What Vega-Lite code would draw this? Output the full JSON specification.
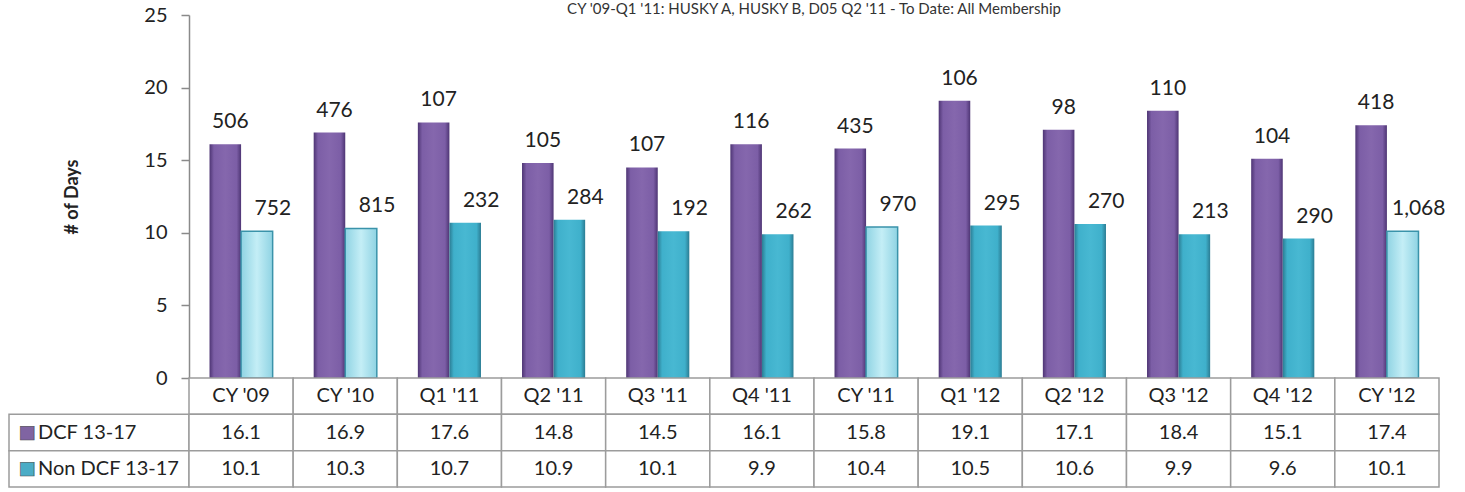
{
  "$schema": "https://vega.github.io/schema/vega-lite/v6.json",
  "padding": {"left": 8, "top": 2, "right": 0, "bottom": 0},
  "autosize": {"type": "pad"},
  "config": {"view": {"stroke": null}, "font": "Lato"},
  "datasets": {
    "main": [
      {"category": "CY '09", "period": "Annual", "series": "DCF 13-17", "days": 16.1, "count": 506},
      {"category": "CY '09", "period": "Annual", "series": "Non DCF 13-17", "days": 10.1, "count": 752},
      {"category": "CY '10", "period": "Annual", "series": "DCF 13-17", "days": 16.9, "count": 476},
      {"category": "CY '10", "period": "Annual", "series": "Non DCF 13-17", "days": 10.3, "count": 815},
      {"category": "Q1 '11", "period": "Quarter", "series": "DCF 13-17", "days": 17.6, "count": 107},
      {"category": "Q1 '11", "period": "Quarter", "series": "Non DCF 13-17", "days": 10.7, "count": 232},
      {"category": "Q2 '11", "period": "Quarter", "series": "DCF 13-17", "days": 14.8, "count": 105},
      {"category": "Q2 '11", "period": "Quarter", "series": "Non DCF 13-17", "days": 10.9, "count": 284},
      {"category": "Q3 '11", "period": "Quarter", "series": "DCF 13-17", "days": 14.5, "count": 107},
      {"category": "Q3 '11", "period": "Quarter", "series": "Non DCF 13-17", "days": 10.1, "count": 192},
      {"category": "Q4 '11", "period": "Quarter", "series": "DCF 13-17", "days": 16.1, "count": 116},
      {"category": "Q4 '11", "period": "Quarter", "series": "Non DCF 13-17", "days": 9.9, "count": 262},
      {"category": "CY '11", "period": "Annual", "series": "DCF 13-17", "days": 15.8, "count": 435},
      {"category": "CY '11", "period": "Annual", "series": "Non DCF 13-17", "days": 10.4, "count": 970},
      {"category": "Q1 '12", "period": "Quarter", "series": "DCF 13-17", "days": 19.1, "count": 106},
      {"category": "Q1 '12", "period": "Quarter", "series": "Non DCF 13-17", "days": 10.5, "count": 295},
      {"category": "Q2 '12", "period": "Quarter", "series": "DCF 13-17", "days": 17.1, "count": 98},
      {"category": "Q2 '12", "period": "Quarter", "series": "Non DCF 13-17", "days": 10.6, "count": 270},
      {"category": "Q3 '12", "period": "Quarter", "series": "DCF 13-17", "days": 18.4, "count": 110},
      {"category": "Q3 '12", "period": "Quarter", "series": "Non DCF 13-17", "days": 9.9, "count": 213},
      {"category": "Q4 '12", "period": "Quarter", "series": "DCF 13-17", "days": 15.1, "count": 104},
      {"category": "Q4 '12", "period": "Quarter", "series": "Non DCF 13-17", "days": 9.6, "count": 290},
      {"category": "CY '12", "period": "Annual", "series": "DCF 13-17", "days": 17.4, "count": 418},
      {"category": "CY '12", "period": "Annual", "series": "Non DCF 13-17", "days": 10.1, "count": 1068}
    ]
  },
  "columns": 2,
  "spacing": 0,
  "bounds": "flush",
  "resolve": {"scale": {"x": "independent", "y": "independent", "color": "independent"}},
  "concat": [
    {
      "width": 180,
      "height": 363,
      "data": {"values": []},
      "mark": {"type": "point", "opacity": 0}
    },
    {
      "width": 1250,
      "height": 363,
      "data": {"name": "main"},
      "title": {
        "text": "CY '09-Q1 '11: HUSKY A, HUSKY B, D05  Q2 '11 - To Date: All Membership",
        "frame": "group",
        "anchor": "middle",
        "fontSize": 15,
        "fontWeight": "normal",
        "color": "#333333",
        "offset": -12
      },
      "encoding": {
        "x": {
          "field": "category",
          "type": "nominal",
          "scale": {
            "domain": ["CY '09", "CY '10", "Q1 '11", "Q2 '11", "Q3 '11", "Q4 '11", "CY '11", "Q1 '12", "Q2 '12", "Q3 '12", "Q4 '12", "CY '12"],
            "paddingInner": 0,
            "paddingOuter": 0
          },
          "axis": null
        },
        "xOffset": {
          "field": "series",
          "type": "nominal",
          "scale": {"domain": ["DCF 13-17", "Non DCF 13-17"], "paddingInner": 0, "paddingOuter": 0.65}
        },
        "y": {
          "field": "days",
          "type": "quantitative",
          "scale": {"domain": [0, 25]},
          "axis": {
            "values": [0, 5, 10, 15, 20, 25],
            "grid": false,
            "domainColor": "#8a8a8a",
            "domainWidth": 1.5,
            "tickColor": "#8a8a8a",
            "tickWidth": 1.5,
            "tickSize": 8,
            "labelFontSize": 20,
            "labelPadding": 14,
            "labelColor": "#222222",
            "title": "# of Days",
            "titleFontSize": 18,
            "titleFontWeight": "bold",
            "titleColor": "#222222",
            "titlePadding": 62
          }
        }
      },
      "layer": [
        {
          "transform": [{"filter": "datum.series === 'DCF 13-17'"}],
          "mark": {
            "type": "bar",
            "fill": {
              "gradient": "linear", "x1": 0, "y1": 0, "x2": 1, "y2": 0,
              "stops": [
                {"offset": 0, "color": "#4e3574"},
                {"offset": 0.14, "color": "#7c5ea6"},
                {"offset": 0.5, "color": "#8567ad"},
                {"offset": 0.86, "color": "#7c5ea6"},
                {"offset": 1, "color": "#4e3574"}
              ]
            }
          }
        },
        {
          "transform": [{"filter": "datum.series === 'Non DCF 13-17' && datum.period === 'Quarter'"}],
          "mark": {
            "type": "bar",
            "fill": {
              "gradient": "linear", "x1": 0, "y1": 0, "x2": 1, "y2": 0,
              "stops": [
                {"offset": 0, "color": "#2b7c93"},
                {"offset": 0.14, "color": "#3fb0cb"},
                {"offset": 0.5, "color": "#48b8d2"},
                {"offset": 0.86, "color": "#3fb0cb"},
                {"offset": 1, "color": "#2b7c93"}
              ]
            }
          }
        },
        {
          "transform": [{"filter": "datum.series === 'Non DCF 13-17' && datum.period === 'Annual'"}],
          "mark": {
            "type": "bar",
            "fill": {
              "gradient": "linear", "x1": 0, "y1": 0, "x2": 1, "y2": 0,
              "stops": [
                {"offset": 0, "color": "#8fd3e3"},
                {"offset": 0.5, "color": "#c4eef6"},
                {"offset": 1, "color": "#8fd3e3"}
              ]
            },
            "stroke": "#3a93aa",
            "strokeWidth": 1.5
          }
        },
        {
          "transform": [{"filter": "datum.series === 'DCF 13-17'"}],
          "mark": {"type": "text", "baseline": "bottom", "dy": -12, "dx": 5, "fontSize": 21, "color": "#222222"},
          "encoding": {"text": {"field": "count", "type": "quantitative", "format": ","}}
        },
        {
          "transform": [{"filter": "datum.series === 'Non DCF 13-17'"}],
          "mark": {"type": "text", "baseline": "bottom", "dy": -12, "dx": 16, "fontSize": 21, "color": "#222222"},
          "encoding": {"text": {"field": "count", "type": "quantitative", "format": ","}}
        }
      ]
    },
    {
      "width": 180,
      "height": 109,
      "data": {"name": "main"},
      "transform": [{"aggregate": [{"op": "count", "as": "n"}], "groupby": ["series"]}],
      "encoding": {
        "y": {
          "field": "series",
          "type": "nominal",
          "scale": {"domain": ["cat", "DCF 13-17", "Non DCF 13-17"], "paddingInner": 0, "paddingOuter": 0},
          "axis": null
        },
        "x": {"datum": 0, "type": "quantitative", "scale": {"domain": [0, 1]}, "axis": null}
      },
      "layer": [
        {
          "mark": {"type": "rect", "fill": "white", "stroke": "#9c9c9c", "strokeWidth": 1.5},
          "encoding": {"x2": {"datum": 1}}
        },
        {
          "mark": {"type": "text", "text": "■", "font": "DejaVu Sans", "fontSize": 18, "align": "center", "dx": 18, "stroke": "#4a4a4a", "strokeWidth": 0.6},
          "encoding": {
            "color": {
              "field": "series",
              "type": "nominal",
              "scale": {"domain": ["DCF 13-17", "Non DCF 13-17"], "range": ["#8064a2", "#4bacc6"]},
              "legend": null
            }
          }
        },
        {
          "mark": {"type": "text", "align": "left", "dx": 29, "fontSize": 20, "color": "#222222"},
          "encoding": {"text": {"field": "series"}}
        }
      ]
    },
    {
      "width": 1250,
      "height": 109,
      "data": {"name": "main"},
      "encoding": {
        "x": {
          "field": "category",
          "type": "nominal",
          "scale": {
            "domain": ["CY '09", "CY '10", "Q1 '11", "Q2 '11", "Q3 '11", "Q4 '11", "CY '11", "Q1 '12", "Q2 '12", "Q3 '12", "Q4 '12", "CY '12"],
            "paddingInner": 0,
            "paddingOuter": 0
          },
          "axis": null
        }
      },
      "layer": [
        {
          "transform": [{"filter": "datum.series === 'DCF 13-17'"}],
          "mark": {"type": "rect", "fill": "white", "stroke": "#9c9c9c", "strokeWidth": 1.5},
          "encoding": {
            "y": {
              "datum": "cat",
              "type": "nominal",
              "scale": {"domain": ["cat", "DCF 13-17", "Non DCF 13-17"], "paddingInner": 0, "paddingOuter": 0},
              "axis": null
            }
          }
        },
        {
          "mark": {"type": "rect", "fill": "white", "stroke": "#9c9c9c", "strokeWidth": 1.5},
          "encoding": {"y": {"field": "series", "type": "nominal"}}
        },
        {
          "transform": [{"filter": "datum.series === 'DCF 13-17'"}],
          "mark": {"type": "text", "fontSize": 20, "color": "#222222"},
          "encoding": {
            "y": {"datum": "cat", "type": "nominal"},
            "text": {"field": "category"}
          }
        },
        {
          "mark": {"type": "text", "fontSize": 20, "color": "#222222"},
          "encoding": {
            "y": {"field": "series", "type": "nominal"},
            "text": {"field": "days", "type": "quantitative", "format": ".1f"}
          }
        }
      ]
    }
  ]
}
